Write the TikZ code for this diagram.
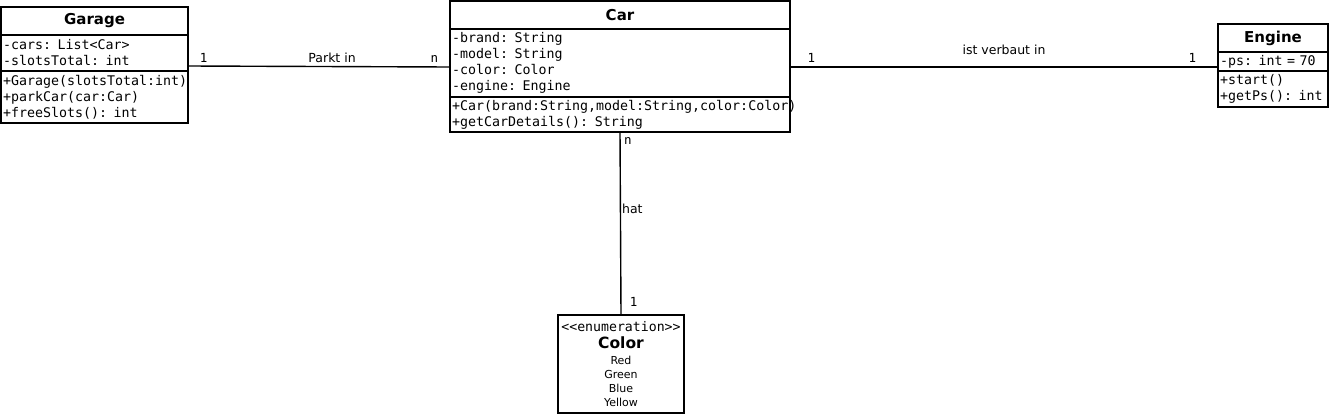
\documentclass[tikz,border=0pt]{standalone}
\usepackage{fontspec}
\setmainfont{DejaVu Sans}
\setmonofont{DejaVu Sans Mono}
\usetikzlibrary{positioning}

\begin{document}
\begin{tikzpicture}[x=1pt,y=-1pt,
  ctitle/.style={draw,line width=1.6pt,anchor=north west,inner sep=0pt,outer sep=0pt,font=\bfseries\fontsize{15}{18}\selectfont},
  cpart/.style={draw,line width=1.6pt,anchor=north west,inner xsep=2pt,inner ysep=0pt,outer sep=0pt,align=left,font=\ttfamily\fontsize{13.3}{16}\selectfont},
  conn/.style={line width=1.4pt},
  lbl/.style={font=\fontsize{12.5}{15}\selectfont},
  mult/.style={font=\ttfamily\fontsize{12.5}{14}\selectfont}]

\useasboundingbox (0,0) rectangle (1329,415);

\node[ctitle,minimum width=187,minimum height=28] (G) at (1,7) {Garage};
\node[cpart,minimum width=187,minimum height=36,text width=183] (GA) at (G.south west) {-cars: List<Car>\\-slotsTotal: int};
\node[cpart,minimum width=187,minimum height=52,text width=183] (GM) at (GA.south west) {+Garage(slotsTotal:int)\\+parkCar(car:Car)\\+freeSlots(): int};

\node[ctitle,minimum width=340,minimum height=28] (C) at (450,1) {Car};
\node[cpart,minimum width=340,minimum height=68,text width=336] (CA) at (C.south west) {-brand: String\\-model: String\\-color: Color\\-engine: Engine};
\node[cpart,minimum width=340,minimum height=35,text width=336] (CM) at (CA.south west) {+Car(brand:String,model:String,color:Color)\\+getCarDetails(): String};

\node[ctitle,minimum width=110,minimum height=28] (E) at (1218,24) {Engine};
\node[cpart,minimum width=110,minimum height=19,text width=106] (EA) at (E.south west) {-ps: int = 70};
\node[cpart,minimum width=110,minimum height=36,text width=106] (EM) at (EA.south west) {+start()\\+getPs(): int};

\node[draw,line width=1.6pt,anchor=north west,minimum width=126,minimum height=98,inner sep=0pt,outer sep=0pt,align=center,
  font=\fontsize{11}{14}\selectfont] (Col) at (558,315)
  {{\ttfamily\fontsize{13.2}{14}\selectfont <<enumeration>>}\\[3pt]{\bfseries\fontsize{15.5}{18}\selectfont Color}\\[2pt]Red\\Green\\Blue\\Yellow};

\draw[conn] ([yshift=5pt]GA.south east) --node[pos=0.06,above,mult]{1} node[pos=0.55,above,lbl]{Parkt in} node[pos=0.94,above,mult]{n} ([yshift=-4pt]CA.west);
\draw[conn] ([yshift=-4pt]CA.east) --node[pos=0.05,above,mult]{1} node[above=8pt,lbl]{ist verbaut in} node[pos=0.94,above,mult]{1} ([yshift=-5.5pt]EA.west);
\draw[conn] (CM.south) --node[pos=0.05,right,mult]{n} node[pos=0.42,right,inner sep=1pt,lbl]{hat} node[pos=0.93,right=5pt,mult]{1} (Col.north);
\end{tikzpicture}
\end{document}
